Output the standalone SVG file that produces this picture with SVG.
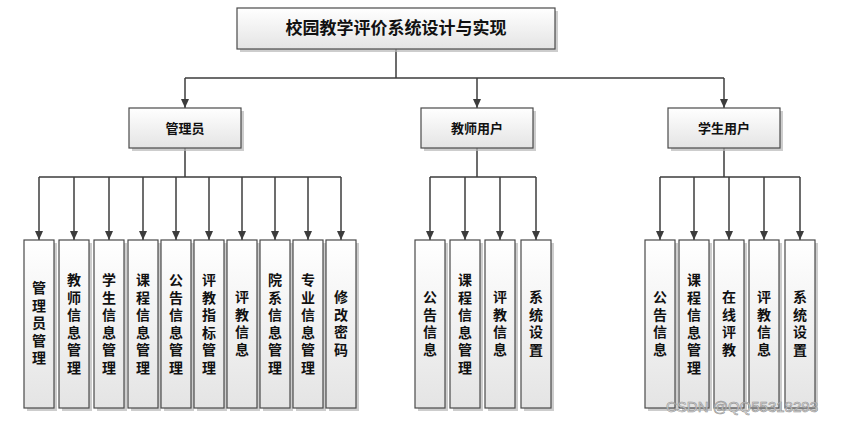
<svg xmlns="http://www.w3.org/2000/svg" width="842" height="425" viewBox="0 0 842 425">
<style>
.bg{fill:#ffffff}
.box{fill:url(#g);stroke:#4a4a4a;stroke-width:1.2}
.sh{fill:#b8b8b8;opacity:0.7}
.ln{fill:none;stroke:#3c3c3c;stroke-width:1.5}
.t{font-family:"Liberation Serif","Noto Sans CJK SC",serif;font-weight:bold;fill:#111;text-anchor:middle}
.title{font-size:17px}
.mid{font-size:13px}
.leaf{font-size:14px}
.wm{font-family:"Liberation Sans",sans-serif;font-size:15px;fill:#e8e8e8;stroke:#8a8a8a;stroke-width:0.6;opacity:0.9}
</style>
<defs>
<linearGradient id="g" x1="0" y1="0" x2="0" y2="1">
<stop offset="0" stop-color="#ffffff"/>
<stop offset="1" stop-color="#e4e4e4"/>
</linearGradient>
<marker id="ar" markerUnits="userSpaceOnUse" markerWidth="10" markerHeight="10" refX="9" refY="5" orient="auto">
<path d="M0,1 L9,5 L0,9 Z" fill="#3c3c3c"/>
</marker>
</defs>
<rect class="bg" x="0" y="0" width="842" height="425"/>

<g id="connectors">
<path class="ln" d="M396,49 V78 M185,78 H724"/>
<path class="ln" d="M185,78 V108" marker-end="url(#ar)"/>
<path class="ln" d="M477,78 V108" marker-end="url(#ar)"/>
<path class="ln" d="M724,78 V108" marker-end="url(#ar)"/>
<path class="ln" d="M185,148 V177 M39,177 H341"/>
<path class="ln" d="M39,177 V240" marker-end="url(#ar)"/>
<path class="ln" d="M74,177 V240" marker-end="url(#ar)"/>
<path class="ln" d="M109,177 V240" marker-end="url(#ar)"/>
<path class="ln" d="M143,177 V240" marker-end="url(#ar)"/>
<path class="ln" d="M176,177 V240" marker-end="url(#ar)"/>
<path class="ln" d="M209,177 V240" marker-end="url(#ar)"/>
<path class="ln" d="M242,177 V240" marker-end="url(#ar)"/>
<path class="ln" d="M275,177 V240" marker-end="url(#ar)"/>
<path class="ln" d="M308,177 V240" marker-end="url(#ar)"/>
<path class="ln" d="M341,177 V240" marker-end="url(#ar)"/>
<path class="ln" d="M477,148 V177 M430,177 H536"/>
<path class="ln" d="M430,177 V240" marker-end="url(#ar)"/>
<path class="ln" d="M465,177 V240" marker-end="url(#ar)"/>
<path class="ln" d="M500,177 V240" marker-end="url(#ar)"/>
<path class="ln" d="M536,177 V240" marker-end="url(#ar)"/>
<path class="ln" d="M724,148 V177 M660,177 H800"/>
<path class="ln" d="M660,177 V240" marker-end="url(#ar)"/>
<path class="ln" d="M694,177 V240" marker-end="url(#ar)"/>
<path class="ln" d="M729,177 V240" marker-end="url(#ar)"/>
<path class="ln" d="M764,177 V240" marker-end="url(#ar)"/>
<path class="ln" d="M800,177 V240" marker-end="url(#ar)"/>
</g>

<g id="root">
<rect class="sh" x="240" y="11" width="318" height="41"/>
<rect class="box" x="237" y="8" width="318" height="41"/>
<text class="t title" x="396" y="34">校园教学评价系统设计与实现</text>
</g>

<g id="admin">
<rect class="sh" x="132" y="111" width="112" height="40"/>
<rect class="box" x="129" y="108" width="112" height="40"/>
<text class="t mid" x="185" y="133">管理员</text>
</g>
<g id="teacher">
<rect class="sh" x="424" y="111" width="112" height="40"/>
<rect class="box" x="421" y="108" width="112" height="40"/>
<text class="t mid" x="477" y="133">教师用户</text>
</g>
<g id="student">
<rect class="sh" x="671" y="111" width="112" height="40"/>
<rect class="box" x="668" y="108" width="112" height="40"/>
<text class="t mid" x="724" y="133">学生用户</text>
</g>

<g id="a1"><rect class="sh" x="27" y="243" width="30" height="168"/><rect class="box" x="24" y="240" width="30" height="168"/>
<text class="t leaf" x="39" y="293"><tspan x="39">管</tspan><tspan x="39" dy="17.5">理</tspan><tspan x="39" dy="17.5">员</tspan><tspan x="39" dy="17.5">管</tspan><tspan x="39" dy="17.5">理</tspan></text></g>
<g id="a2"><rect class="sh" x="62" y="243" width="30" height="168"/><rect class="box" x="59" y="240" width="30" height="168"/>
<text class="t leaf" x="74" y="285"><tspan x="74">教</tspan><tspan x="74" dy="17.5">师</tspan><tspan x="74" dy="17.5">信</tspan><tspan x="74" dy="17.5">息</tspan><tspan x="74" dy="17.5">管</tspan><tspan x="74" dy="17.5">理</tspan></text></g>
<g id="a3"><rect class="sh" x="97" y="243" width="30" height="168"/><rect class="box" x="94" y="240" width="30" height="168"/>
<text class="t leaf" x="109" y="285"><tspan x="109">学</tspan><tspan x="109" dy="17.5">生</tspan><tspan x="109" dy="17.5">信</tspan><tspan x="109" dy="17.5">息</tspan><tspan x="109" dy="17.5">管</tspan><tspan x="109" dy="17.5">理</tspan></text></g>
<g id="a4"><rect class="sh" x="131" y="243" width="30" height="168"/><rect class="box" x="128" y="240" width="30" height="168"/>
<text class="t leaf" x="143" y="285"><tspan x="143">课</tspan><tspan x="143" dy="17.5">程</tspan><tspan x="143" dy="17.5">信</tspan><tspan x="143" dy="17.5">息</tspan><tspan x="143" dy="17.5">管</tspan><tspan x="143" dy="17.5">理</tspan></text></g>
<g id="a5"><rect class="sh" x="164" y="243" width="30" height="168"/><rect class="box" x="161" y="240" width="30" height="168"/>
<text class="t leaf" x="176" y="285"><tspan x="176">公</tspan><tspan x="176" dy="17.5">告</tspan><tspan x="176" dy="17.5">信</tspan><tspan x="176" dy="17.5">息</tspan><tspan x="176" dy="17.5">管</tspan><tspan x="176" dy="17.5">理</tspan></text></g>
<g id="a6"><rect class="sh" x="197" y="243" width="30" height="168"/><rect class="box" x="194" y="240" width="30" height="168"/>
<text class="t leaf" x="209" y="285"><tspan x="209">评</tspan><tspan x="209" dy="17.5">教</tspan><tspan x="209" dy="17.5">指</tspan><tspan x="209" dy="17.5">标</tspan><tspan x="209" dy="17.5">管</tspan><tspan x="209" dy="17.5">理</tspan></text></g>
<g id="a7"><rect class="sh" x="230" y="243" width="30" height="168"/><rect class="box" x="227" y="240" width="30" height="168"/>
<text class="t leaf" x="242" y="302"><tspan x="242">评</tspan><tspan x="242" dy="17.5">教</tspan><tspan x="242" dy="17.5">信</tspan><tspan x="242" dy="17.5">息</tspan></text></g>
<g id="a8"><rect class="sh" x="263" y="243" width="30" height="168"/><rect class="box" x="260" y="240" width="30" height="168"/>
<text class="t leaf" x="275" y="285"><tspan x="275">院</tspan><tspan x="275" dy="17.5">系</tspan><tspan x="275" dy="17.5">信</tspan><tspan x="275" dy="17.5">息</tspan><tspan x="275" dy="17.5">管</tspan><tspan x="275" dy="17.5">理</tspan></text></g>
<g id="a9"><rect class="sh" x="296" y="243" width="30" height="168"/><rect class="box" x="293" y="240" width="30" height="168"/>
<text class="t leaf" x="308" y="285"><tspan x="308">专</tspan><tspan x="308" dy="17.5">业</tspan><tspan x="308" dy="17.5">信</tspan><tspan x="308" dy="17.5">息</tspan><tspan x="308" dy="17.5">管</tspan><tspan x="308" dy="17.5">理</tspan></text></g>
<g id="a10"><rect class="sh" x="329" y="243" width="30" height="168"/><rect class="box" x="326" y="240" width="30" height="168"/>
<text class="t leaf" x="341" y="302"><tspan x="341">修</tspan><tspan x="341" dy="17.5">改</tspan><tspan x="341" dy="17.5">密</tspan><tspan x="341" dy="17.5">码</tspan></text></g>

<g id="t1"><rect class="sh" x="418" y="243" width="30" height="168"/><rect class="box" x="415" y="240" width="30" height="168"/>
<text class="t leaf" x="430" y="302"><tspan x="430">公</tspan><tspan x="430" dy="17.5">告</tspan><tspan x="430" dy="17.5">信</tspan><tspan x="430" dy="17.5">息</tspan></text></g>
<g id="t2"><rect class="sh" x="453" y="243" width="30" height="168"/><rect class="box" x="450" y="240" width="30" height="168"/>
<text class="t leaf" x="465" y="285"><tspan x="465">课</tspan><tspan x="465" dy="17.5">程</tspan><tspan x="465" dy="17.5">信</tspan><tspan x="465" dy="17.5">息</tspan><tspan x="465" dy="17.5">管</tspan><tspan x="465" dy="17.5">理</tspan></text></g>
<g id="t3"><rect class="sh" x="488" y="243" width="30" height="168"/><rect class="box" x="485" y="240" width="30" height="168"/>
<text class="t leaf" x="500" y="302"><tspan x="500">评</tspan><tspan x="500" dy="17.5">教</tspan><tspan x="500" dy="17.5">信</tspan><tspan x="500" dy="17.5">息</tspan></text></g>
<g id="t4"><rect class="sh" x="524" y="243" width="30" height="168"/><rect class="box" x="521" y="240" width="30" height="168"/>
<text class="t leaf" x="536" y="302"><tspan x="536">系</tspan><tspan x="536" dy="17.5">统</tspan><tspan x="536" dy="17.5">设</tspan><tspan x="536" dy="17.5">置</tspan></text></g>

<g id="s1"><rect class="sh" x="648" y="243" width="30" height="168"/><rect class="box" x="645" y="240" width="30" height="168"/>
<text class="t leaf" x="660" y="302"><tspan x="660">公</tspan><tspan x="660" dy="17.5">告</tspan><tspan x="660" dy="17.5">信</tspan><tspan x="660" dy="17.5">息</tspan></text></g>
<g id="s2"><rect class="sh" x="682" y="243" width="30" height="168"/><rect class="box" x="679" y="240" width="30" height="168"/>
<text class="t leaf" x="694" y="285"><tspan x="694">课</tspan><tspan x="694" dy="17.5">程</tspan><tspan x="694" dy="17.5">信</tspan><tspan x="694" dy="17.5">息</tspan><tspan x="694" dy="17.5">管</tspan><tspan x="694" dy="17.5">理</tspan></text></g>
<g id="s3"><rect class="sh" x="717" y="243" width="30" height="168"/><rect class="box" x="714" y="240" width="30" height="168"/>
<text class="t leaf" x="729" y="302"><tspan x="729">在</tspan><tspan x="729" dy="17.5">线</tspan><tspan x="729" dy="17.5">评</tspan><tspan x="729" dy="17.5">教</tspan></text></g>
<g id="s4"><rect class="sh" x="752" y="243" width="30" height="168"/><rect class="box" x="749" y="240" width="30" height="168"/>
<text class="t leaf" x="764" y="302"><tspan x="764">评</tspan><tspan x="764" dy="17.5">教</tspan><tspan x="764" dy="17.5">信</tspan><tspan x="764" dy="17.5">息</tspan></text></g>
<g id="s5"><rect class="sh" x="788" y="243" width="30" height="168"/><rect class="box" x="785" y="240" width="30" height="168"/>
<text class="t leaf" x="800" y="302"><tspan x="800">系</tspan><tspan x="800" dy="17.5">统</tspan><tspan x="800" dy="17.5">设</tspan><tspan x="800" dy="17.5">置</tspan></text></g>

<text class="wm" x="666" y="412">CSDN @QQ55318293</text>
</svg>
